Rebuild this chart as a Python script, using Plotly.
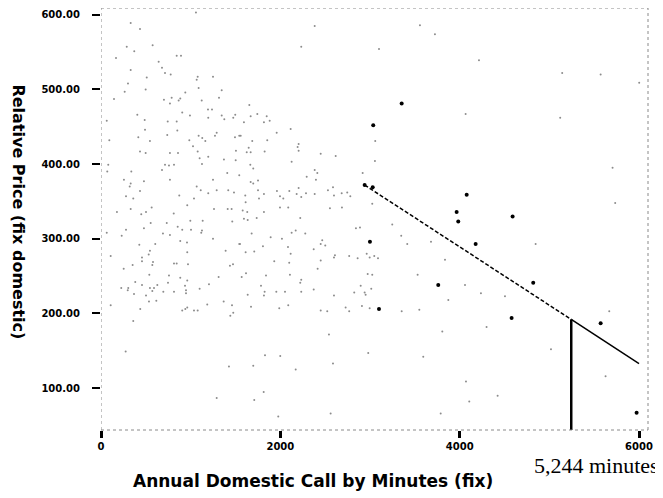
import plotly.graph_objects as go

# ---- data ----
x_ticks = [0, 2000, 4000, 6000]
x_tick_labels = ["0", "2000", "4000", "6000"]
y_ticks = [100, 200, 300, 400, 500, 600]
y_tick_labels = ["100.00", "200.00", "300.00", "400.00", "500.00", "600.00"]

# faint small points (dense cloud)
faint_x = [331, 435, 287, 371, 576, 167, 643, 844, 892, 331, 680, 714, 777, 510, 301, 1078, 1067, 1249, 498, 264,
           940, 1089, 1346, 145, 702, 788, 884, 866, 1123, 1316, 769, 906, 992, 1193, 1238, 1196, 1346, 1375, 1475, 1497,
           405, 487, 744, 844, 64, 491, 851, 1290, 1271, 1089, 739, 416, 93, 546, 985, 1129, 1163, 1494, 1542, 1026,
           435, 498, 769, 859, 1078, 1505, 1059,
           2383, 2233, 3100, 1654, 1669, 1743, 1848, 1594, 1817, 1881, 2115, 1959, 1558, 1687, 1854, 1647, 1625, 1669,
           1825, 2204, 2193, 2204, 2450, 3058,
           81, 70, 338, 714, 758, 814, 680, 1100, 1196, 1371, 1126, 1502, 1408, 1542, 256, 479, 769, 1249, 331, 320,
           435, 1067, 1112, 1290, 1419, 1483, 1196, 279, 360, 873, 1037, 962, 565, 331, 1260, 1413, 1457, 178, 502, 449,
           811, 996, 733, 554, 855, 1134, 1464, 279, 479, 906, 1004, 1126, 1118, 64, 691, 769, 231, 884, 959, 1249,
           427, 605, 1542, 546, 532, 962, 1390, 108, 457, 457, 580, 572, 353, 814, 844, 970, 1472, 1438, 253, 539,
           758, 884, 962, 1312, 382, 457, 628, 747, 1204, 226, 304, 546, 591, 937, 298, 572, 695, 814, 948, 1100,
           368, 502, 948,
           2126, 1665, 1698, 2383, 2412, 2294, 2397, 2918, 1669, 1698, 1751, 1751, 1962, 2100, 2204, 2286, 2182, 2233,
           2383, 2531, 2587, 2684, 2598, 2746, 2780, 1609, 1817, 1762, 1996, 2033, 1613, 1996, 2088, 2553, 2687, 3025,
           1580, 1631, 1817, 1594, 1636, 1736, 2222, 2843, 2888, 1680, 1892, 2126, 2171, 2278, 2018, 2467, 2450, 2501,
           1550, 1806, 2085, 2372, 1613, 1709, 2115, 2609, 2598, 2768, 2862, 2963, 2996, 3047, 3089, 1932, 2099, 2450,
           2416, 1617, 1569, 1840, 2107, 2974, 3025, 2233, 2222, 1784, 2896, 3014, 1825, 1955, 2052, 2233, 2372, 2824,
           2940, 2951, 1636, 1817, 2598,
           108, 535, 617, 438, 906, 940, 962, 1037, 1078, 1185, 1368, 1461, 1475, 1442, 360, 275, 1427, 1290,
           1673, 1988, 2088, 2450, 2523, 2728, 2768, 2910, 2996, 2542, 1829, 1999, 1698, 2171, 2587, 2980, 1814, 1709,
           2561, 1977,
           3557, 3724, 4215, 5143, 5572, 6002, 4066, 5121, 5705, 5734, 2617, 3055, 3248, 3348, 3415, 3680, 4847,
           3836, 3531, 4059, 4237, 4505, 3873, 3353, 3550, 3806, 4300, 5018, 3594, 4070, 4107, 4423, 3788, 5627, 5668]
faint_y = [589, 581, 557, 551, 559, 542, 537, 545, 545, 526, 529, 522, 520, 516, 508, 517, 513, 517, 500, 497,
           496, 502, 499, 487, 486, 489, 488, 485, 485, 489, 481, 469, 465, 473, 473, 462, 465, 460, 462, 466,
           466, 459, 457, 457, 458, 446, 445, 442, 438, 438, 439, 436, 432, 431, 432, 435, 431, 436, 438, 424,
           417, 415, 415, 415, 417, 418, 603,
           585, 557, 554, 479, 464, 467, 464, 456, 456, 458, 447, 442, 438, 431, 432, 422, 416, 416,
           417, 427, 423, 418, 414, 431,
           399, 390, 390, 399, 398, 399, 392, 408, 410, 406, 400, 405, 388, 385, 379, 377, 379, 379, 374, 370,
           364, 370, 365, 365, 365, 362, 361, 357, 354, 358, 354, 345, 342, 340, 340, 340, 340, 336, 336, 333,
           334, 324, 321, 321, 316, 324, 323, 312, 314, 312, 312, 311, 308, 308, 307, 305, 304, 297, 295, 300,
           292, 293, 293, 284, 279, 282, 284, 277, 275, 270, 269, 265, 265, 267, 267, 266, 266, 264, 260, 252,
           251, 248, 244, 249, 242, 238, 238, 241, 239, 234, 234, 234, 234, 237, 231, 230, 229, 229, 231, 233,
           226, 224, 227,
           403, 399, 394, 392, 388, 383, 379, 388, 376, 374, 378, 365, 364, 364, 368, 361, 360, 356,
           360, 365, 369, 361, 358, 362, 357, 358, 360, 354, 357, 354, 349, 342, 342, 341, 342, 347,
           338, 336, 336, 327, 325, 328, 328, 314, 315, 307, 302, 308, 311, 307, 300, 298, 293, 291,
           293, 290, 289, 286, 282, 283, 280, 278, 275, 277, 274, 280, 275, 277, 274, 270, 268, 271,
           260, 254, 249, 251, 252, 253, 252, 245, 241, 237, 237, 233, 229, 229, 229, 229, 232, 228,
           228, 225, 225, 224, 224,
           211, 216, 217, 206, 204, 206, 208, 204, 204, 212, 216, 211, 201, 197, 190, 149, 129, 87,
           209, 207, 211, 204, 203, 208, 203, 210, 207, 172, 144, 143, 130, 125, 133, 147, 95, 84,
           66, 62,
           586, 574, 539, 522, 520, 509, 467, 462, 395, 348, 411, 404, 319, 304, 293, 296, 293,
           272, 252, 238, 227, 223, 218, 203, 205, 176, 182, 152, 142, 109, 82, 90, 66, 116, 203]

# darker data points
dark_x = [2940, 3030, 3353, 3036, 4078, 3966, 3984, 4590, 2999, 4178, 3761, 3100, 4579, 4820, 5572, 5973]
dark_y = [372, 369, 481, 452, 359, 336, 323, 330, 296, 293, 238, 206, 194, 241, 187, 67]

# regression line (dashed part, solid part) and the 5,244 minute marker
fit_dash_x = [2940, 5244]
fit_dash_y = [372, 192]
fit_solid_x = [5244, 6000]
fit_solid_y = [192, 133]
marker_x = [5244, 5244]
marker_y = [44, 192]

x_range = [0, 6100]
y_range = [44, 609]

fig = go.Figure()
fig.add_trace(go.Scatter(x=faint_x, y=faint_y, mode="markers",
                         marker=dict(size=2, color="#8c8c8c"), hoverinfo="skip", showlegend=False))
fig.add_trace(go.Scatter(x=dark_x, y=dark_y, mode="markers",
                         marker=dict(size=4, color="black"), showlegend=False))
fig.add_trace(go.Scatter(x=fit_dash_x, y=fit_dash_y, mode="lines",
                         line=dict(color="black", width=1.5, dash="4px,2px"), showlegend=False))
fig.add_trace(go.Scatter(x=fit_solid_x, y=fit_solid_y, mode="lines",
                         line=dict(color="black", width=1.5), showlegend=False))
fig.add_trace(go.Scatter(x=marker_x, y=marker_y, mode="lines",
                         line=dict(color="black", width=2.5), showlegend=False))

frame = dict(type="line", line=dict(color="#8a8a8a", width=1, dash="dot"))
fig.add_shape(x0=0, x1=0, y0=0, y1=1, xref="x", yref="paper", **frame)
fig.add_shape(x0=0, x1=1, y0=1, y1=1, xref="paper", yref="paper", **frame)
fig.add_shape(x0=1, x1=1, y0=0, y1=1, xref="paper", yref="paper", **frame)
fig.add_shape(x0=0, x1=1, y0=0, y1=0, xref="paper", yref="paper", **frame)

tick_font = dict(family="DejaVu Sans", size=10, color="black", weight="bold")
title_font = dict(family="DejaVu Sans", size=17, color="black", weight="bold")

fig.update_xaxes(range=x_range, tickvals=x_ticks, ticktext=x_tick_labels,
                 ticks="outside", ticklen=7, tickwidth=2.5, tickcolor="black",
                 showgrid=False, zeroline=False, showline=False, tickfont=tick_font,
                 automargin=False)
fig.update_yaxes(range=y_range, tickvals=y_ticks, ticktext=y_tick_labels,
                 ticks="outside", ticklen=8, tickwidth=1.5, tickcolor="black",
                 ticklabelstandoff=10,
                 showgrid=False, zeroline=False, showline=False, tickfont=tick_font,
                 automargin=False)

fig.add_annotation(text="Annual Domestic Call by Minutes (fix)", xref="paper", yref="paper",
                   x=0.388, y=-0.121, xanchor="center", yanchor="middle", showarrow=False,
                   font=title_font)
fig.add_annotation(text="Relative Price (fix domestic)", xref="paper", yref="paper",
                   x=-0.151, y=0.517, xanchor="center", yanchor="middle", showarrow=False,
                   textangle=90, font=dict(family="DejaVu Sans", size=16, color="black", weight="bold"))
fig.add_annotation(text="5,244 minutes", xref="paper", yref="paper",
                   x=0.906, y=-0.083, xanchor="center", yanchor="middle", showarrow=False,
                   font=dict(family="Liberation Serif, Times New Roman", size=22, color="black"))

fig.update_layout(width=663, height=498, margin=dict(l=93, r=23, t=0, b=76),
                  plot_bgcolor="white", paper_bgcolor="white")

fig.write_html("out.html")
